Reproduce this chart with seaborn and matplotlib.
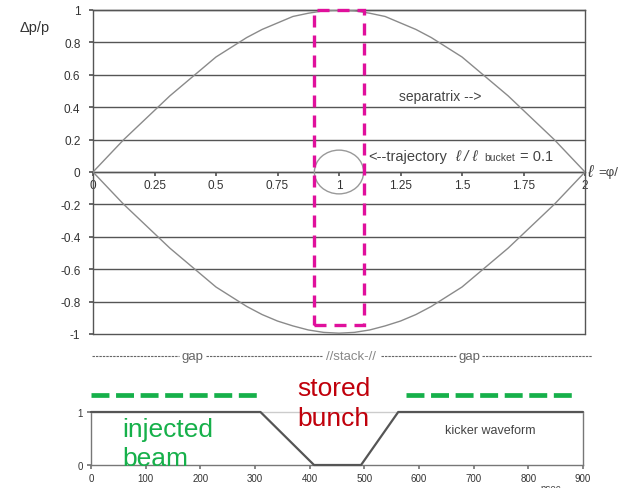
import matplotlib
matplotlib.use("Agg")
import matplotlib.pyplot as plt
from matplotlib.patches import Ellipse, Rectangle
from matplotlib.lines import Line2D
import seaborn as sns
import pandas as pd

# ---- data ----
phase = [0, 0.0625, 0.125, 0.1875, 0.25, 0.3125, 0.375, 0.4375, 0.5,
         0.5625, 0.625, 0.6875, 0.75, 0.8125, 0.875, 0.9375, 1.0,
         1.0625, 1.125, 1.1875, 1.25, 1.3125, 1.375, 1.4375, 1.5,
         1.5625, 1.625, 1.6875, 1.75, 1.8125, 1.875, 1.9375, 2.0]
sep_upper = [0, 0.10, 0.20, 0.29, 0.38, 0.47, 0.55, 0.63, 0.71,
             0.77, 0.83, 0.88, 0.92, 0.96, 0.98, 0.995, 1.0,
             0.995, 0.98, 0.96, 0.92, 0.88, 0.83, 0.77, 0.71,
             0.63, 0.55, 0.47, 0.38, 0.29, 0.20, 0.10, 0]
sep_lower = [0, -0.10, -0.20, -0.29, -0.38, -0.47, -0.55, -0.63, -0.71,
             -0.77, -0.83, -0.88, -0.92, -0.95, -0.975, -0.99, -0.995,
             -0.99, -0.975, -0.95, -0.92, -0.88, -0.83, -0.77, -0.71,
             -0.63, -0.55, -0.47, -0.38, -0.29, -0.20, -0.10, 0]
x_ticks_top = [0, 0.25, 0.5, 0.75, 1, 1.25, 1.5, 1.75, 2]
x_ticklabels_top = ["0", "0.25", "0.5", "0.75", "1", "1.25", "1.5", "1.75", "2"]
y_ticks_top = [-1, -0.8, -0.6, -0.4, -0.2, 0, 0.2, 0.4, 0.6, 0.8, 1]
y_ticklabels_top = ["-1", "-0.8", "-0.6", "-0.4", "-0.2", "0", "0.2", "0.4", "0.6", "0.8", "1"]

traj_center = (1.0, 0.0)
traj_width = 0.2
traj_height = 0.27

stack_box_x = [0.9, 1.1]
stack_box_y = [-0.945, 1.0]

kick_t = [0, 310, 408, 494, 562, 900]
kick_v = [1, 1, 0, 0, 1, 1]
x_ticks_bot = [0, 100, 200, 300, 400, 500, 600, 700, 800, 900]
y_ticks_bot = [0, 1]

inj_seg1 = [0, 310]
inj_seg2 = [577, 880]
inj_level = 1.32

sns.set_theme(style="white")
plt.rcParams['font.family'] = ['Liberation Sans', 'DejaVu Sans']

fig = plt.figure(figsize=(6.25, 4.89), dpi=100)
fig.patch.set_facecolor("white")

grid_c = "#555555"
curve_c = "#8a8a8a"
text_c = "#333333"
note_c = "#444444"

# ---------- top axes ----------
ax = fig.add_axes([93/625, 1-335/489, 492/625, 324/489])
ax.set_xlim(0, 2)
ax.set_ylim(-1, 1)
for y in y_ticks_top:
    ax.axhline(y, color=grid_c, lw=1.0, zorder=1, clip_on=False)

df_u = pd.DataFrame({"x": phase, "y": sep_upper})
df_l = pd.DataFrame({"x": phase, "y": sep_lower})
sns.lineplot(data=df_u, x="x", y="y", ax=ax, color=curve_c, lw=1.0, sort=False, zorder=3)
sns.lineplot(data=df_l, x="x", y="y", ax=ax, color=curve_c, lw=1.0, sort=False, zorder=3)

ax.add_patch(Ellipse(traj_center, traj_width, traj_height, fill=False,
                     edgecolor="#999999", lw=1.0, zorder=3))
box = Rectangle((stack_box_x[0], stack_box_y[0]), stack_box_x[1]-stack_box_x[0],
                stack_box_y[1]-stack_box_y[0], fill=False, edgecolor="#e0109c",
                lw=2.4, zorder=4, clip_on=False)
box.set_linestyle((0, (3.6, 2.4)))
ax.add_patch(box)

ax.spines['bottom'].set_position(('data', 0))
for s in ['left', 'right', 'top', 'bottom']:
    ax.spines[s].set_color(grid_c)
    ax.spines[s].set_linewidth(1.0)
ax.set_xticks(x_ticks_top)
ax.set_xticklabels(x_ticklabels_top)
ax.set_yticks(y_ticks_top)
ax.set_yticklabels(y_ticklabels_top)
ax.tick_params(axis='x', direction='out', length=3, color=grid_c, labelsize=8.5,
               labelcolor=text_c, pad=2, bottom=True)
ax.tick_params(axis='y', direction='out', length=3, color=grid_c, labelsize=8.5,
               labelcolor=text_c, pad=6, left=True)
ax.set_xlabel("")
ax.set_ylabel("")

ax.text(1.245, 0.47, "separatrix -->", fontsize=10, color=note_c, va='center')
ax.text(1.12, 0.10, "<--trajectory", fontsize=10.5, color=note_c, va='center')
ax.text(1.47, 0.10, "ℓ / ℓ", fontsize=11, color=note_c, va='center', style='italic')
ax.text(1.59, 0.095, "bucket", fontsize=7.5, color=note_c, va='center')
ax.text(1.735, 0.10, "= 0.1", fontsize=10.5, color=note_c, va='center')
ax.text(2.01, 0.0, "ℓ", fontsize=12, color=note_c, va='center', style='italic', clip_on=False)
ax.text(2.055, 0.0, "=φ/", fontsize=9.5, color=note_c, va='center', clip_on=False)

fig.text(20/625, 1-28/489, "Δp/p", fontsize=10.5, color=text_c, va='center')

# gap / stack ruler below top panel
gy = 1 - 357/489
gap_c = "#666666"
for x0, x1 in [(92, 179), (206, 322), (381, 456), (482, 592)]:
    fig.add_artist(Line2D([x0/625, x1/625], [gy, gy], transform=fig.transFigure,
                          color=gap_c, lw=0.8, dashes=(2.2, 0.9)))
fig.text(192/625, gy, "gap", fontsize=9.5, color=gap_c, ha='center', va='center')
fig.text(351/625, gy, "//stack-//", fontsize=9.5, color="#888888", ha='center', va='center')
fig.text(469/625, gy, "gap", fontsize=9.5, color=gap_c, ha='center', va='center')

# ---------- bottom axes ----------
bx = fig.add_axes([91/625, 1-466/489, 492/625, 53/489])
bx.set_xlim(0, 900)
bx.set_ylim(0, 1)
df_k = pd.DataFrame({"t": kick_t, "v": kick_v})
sns.lineplot(data=df_k, x="t", y="v", ax=bx, color="#555555", lw=1.6, sort=False,
             zorder=3, clip_on=False)
for s in ['left', 'right', 'top', 'bottom']:
    bx.spines[s].set_color("#777777")
    bx.spines[s].set_linewidth(1.0)
bx.spines['top'].set_color("#cccccc")
bx.set_xticks(x_ticks_bot)
bx.set_yticks(y_ticks_bot)
bx.tick_params(axis='both', direction='out', length=3, color="#777777", labelsize=7,
               labelcolor=text_c, pad=3, bottom=True, left=True)
bx.set_xlabel("")
bx.set_ylabel("")

for seg in (inj_seg1, inj_seg2):
    ln, = bx.plot(seg, [inj_level, inj_level], color="#16b04a", lw=3.4, clip_on=False,
                  solid_capstyle='butt', zorder=5)
    ln.set_dashes((3.8, 1.4))

bx.text(58, 0.40, "injected\nbeam", fontsize=19, color="#16b04a", va='center',
        linespacing=1.25, clip_on=False, zorder=6)
bx.text(378, 1.17, "stored\nbunch", fontsize=19, color="#c0000b", va='center',
        linespacing=1.3, clip_on=False, zorder=6)
bx.text(648, 0.66, "kicker waveform", fontsize=9, color=note_c, va='center')

fig.text(540/625, 1-484/489, "nsec", fontsize=7, color=note_c, va='top')

fig.savefig("out.png", dpi=100, facecolor="white")
